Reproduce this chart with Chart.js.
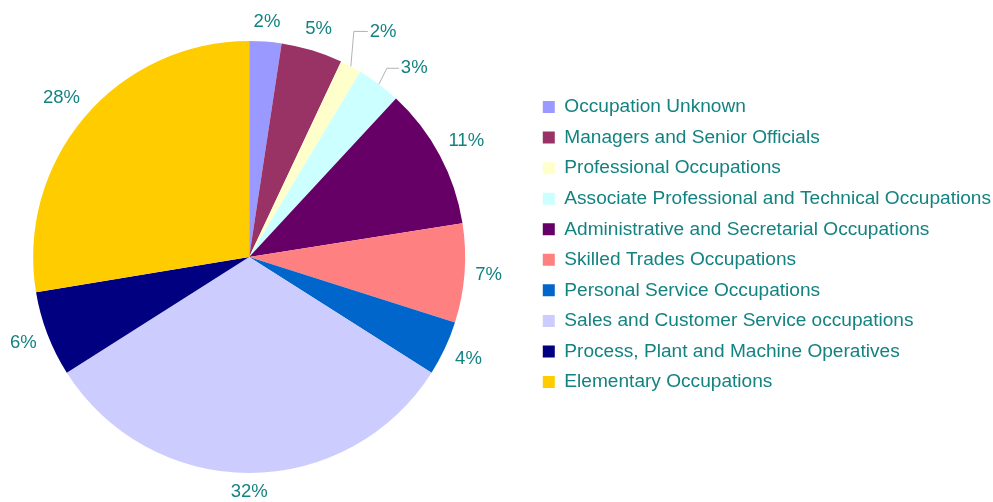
<!DOCTYPE html>
<html>
<head>
    <title>Occupations</title>
    <script src="https://cdn.jsdelivr.net/npm/chart.js"></script>
    <style>
        body { margin: 0; background: #fff; overflow: hidden; }
        #wrap { width: 993px; height: 502px; overflow: hidden; position: relative; }
        /* canvas pushed a bit left so the pie sits where it does in the original */
        #pieChart { position: absolute; left: -33px; top: 0; }
    </style>
</head>
<body>
    <div id="wrap"><canvas id="pieChart" width="1034" height="502"></canvas></div>

    <script>
        // slice values (per mille)
        const categories = [
            'Occupation Unknown',
            'Managers and Senior Officials',
            'Professional Occupations',
            'Associate Professional and Technical Occupations',
            'Administrative and Secretarial Occupations',
            'Skilled Trades Occupations',
            'Personal Service Occupations',
            'Sales and Customer Service occupations',
            'Process, Plant and Machine Operatives',
            'Elementary Occupations'
        ];
        const values = [24, 46, 16, 33, 106, 74, 41, 320, 64, 276];
        const colors = ['#9999FF', '#993366', '#FFFFCC', '#CCFFFF', '#660066',
                        '#FF8080', '#0066CC', '#CCCCFF', '#000080', '#FFCC00'];

        const teal = '#138382';
        const fontFamily = '"Liberation Sans", Arial, sans-serif';

        // percent labels outside the pie, two of them with leader lines
        const pctLabels = {
            id: 'pctLabels',
            afterDatasetsDraw(chart, args, opts) {
                const ctx = chart.ctx;
                const meta = chart.getDatasetMeta(0);
                const data = chart.data.datasets[0].data;
                const total = data.reduce((a, b) => a + b, 0);
                ctx.save();
                ctx.font = opts.size + 'px ' + fontFamily;
                ctx.fillStyle = opts.color;
                ctx.textBaseline = 'middle';
                meta.data.forEach((arc, i) => {
                    const p = arc.getProps(['x', 'y', 'startAngle', 'endAngle', 'outerRadius'], true);
                    const mid = (p.startAngle + p.endAngle) / 2;
                    const ux = Math.cos(mid), uy = Math.sin(mid);
                    const text = Math.round(data[i] / total * 100) + '%';
                    const lead = opts.leaders[i];
                    if (lead) {
                        const sx = p.x + ux * p.outerRadius;
                        const sy = p.y + uy * p.outerRadius;
                        const ex = sx + lead[0], ey = sy + lead[1];
                        ctx.strokeStyle = '#b3b3b3';
                        ctx.lineWidth = 1;
                        ctx.beginPath();
                        ctx.moveTo(sx, sy);
                        ctx.lineTo(ex, ey);
                        ctx.lineTo(ex + lead[2], ey);
                        ctx.stroke();
                        ctx.textAlign = 'left';
                        ctx.fillText(text, ex + lead[2] + 2, ey);
                    } else {
                        // text box sits just outside the rim, touching it with its nearest side
                        const w = ctx.measureText(text).width;
                        const h = opts.size;
                        const r = p.outerRadius + opts.gap + w / 2 * Math.abs(ux) + h / 2 * Math.abs(uy);
                        ctx.textAlign = 'center';
                        ctx.fillText(text, p.x + ux * r, p.y + uy * r);
                    }
                });
                ctx.restore();
            }
        };

        new Chart(document.getElementById('pieChart'), {
            type: 'pie',
            data: {
                labels: categories,
                datasets: [{
                    data: values,
                    backgroundColor: colors,
                    borderWidth: 0
                }]
            },
            options: {
                responsive: false,
                animation: false,
                layout: { padding: { top: 41, bottom: 29, left: 0, right: 0 } },
                plugins: {
                    tooltip: { enabled: false },
                    legend: {
                        position: 'right',
                        align: 'start',
                        title: { display: true, text: '', padding: { top: 30.6, bottom: 0 } },
                        labels: {
                            boxWidth: 12,
                            boxHeight: 12,
                            padding: 11.46,
                            color: teal,
                            font: { family: fontFamily, size: 19.1 }
                        }
                    },
                    pctLabels: {
                        color: teal,
                        size: 18.5,
                        gap: 10,
                        leaders: { 2: [3, -35, 14], 3: [8, -16, 12] }
                    }
                }
            },
            plugins: [pctLabels]
        });
    </script>
</body>
</html>
